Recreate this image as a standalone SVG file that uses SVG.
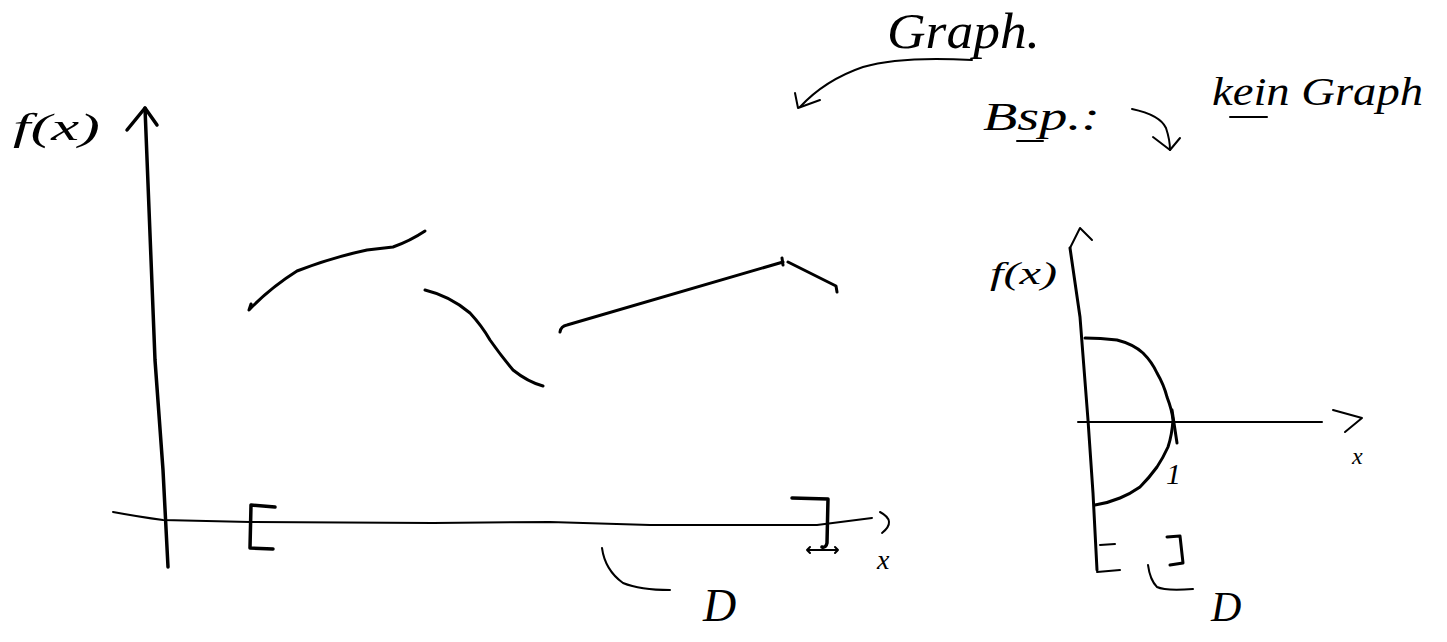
<svg xmlns="http://www.w3.org/2000/svg" width="1447" height="642" viewBox="0 0 1447 642">
<style>
.ink{fill:none;stroke:#000;stroke-linecap:round;stroke-linejoin:round}
.ax{stroke-width:3.5}
.cv{stroke-width:3}
.th{stroke-width:2}
.tx{font-family:"Liberation Serif","DejaVu Serif",serif;font-style:italic;fill:#000}
</style>
<rect width="1447" height="642" fill="#fff"/>
<g id="left-plot">
  <g id="left-y-axis">
    <path class="ink ax" d="M145,108 L155,360 L163,470 L168,567"/>
    <path class="ink ax" d="M127,130 L145,108 L157,125"/>
    <text class="tx" x="13" y="140" font-size="38" textLength="87" lengthAdjust="spacingAndGlyphs">f(x)</text>
  </g>
  <g id="left-x-axis">
    <path class="ink th" d="M113,512 Q140,517 163,520 L250,522 L433,523 L550,522 L650,525 L817,525 L872,518"/>
    <path class="ink th" d="M880,512 Q897,521 882,533"/>
    <text class="tx" x="877" y="569" font-size="28">x</text>
  </g>
  <g id="curve-1"><path class="ink cv" d="M251,304 L249,310 Q270,288 297,271 Q330,258 367,250 L393,247 Q410,241 425,231"/></g>
  <g id="curve-2"><path class="ink cv" d="M425,290 Q450,296 470,313 Q482,326 490,340 Q502,357 513,370 Q528,382 543,386"/></g>
  <g id="curve-3"><path class="ink cv" d="M560,332 Q561,326 567,325 L783,262 M782,258 L783,265 M788,262 Q812,274 836,286 L837,292"/></g>
  <g id="left-domain">
    <path class="ink ax" d="M275,507 L251,505 L250,548 L273,549"/>
    <path class="ink ax" d="M792,498 L828,499 L827,543 Q826,548 822,547"/>
    <path class="ink th" d="M807,550 L838,550 M810,547 L807,550 L810,553 M835,547 L838,550 L835,553"/>
    <path class="ink th" d="M602,548 Q605,570 623,583 Q640,590 670,590"/>
    <text class="tx" x="703" y="621" font-size="46">D</text>
  </g>
</g>
<g id="annotations">
  <g id="label-graph">
    <text class="tx" x="887" y="48" font-size="50" textLength="153" lengthAdjust="spacingAndGlyphs">Graph.</text>
    <path class="ink th" d="M972,60 Q900,56 863,67 Q825,80 800,107"/>
    <path class="ink th" d="M795,93 L798,108 L820,100"/>
  </g>
  <g id="label-bsp">
    <text class="tx" x="983" y="130" font-size="40" textLength="117" lengthAdjust="spacingAndGlyphs">Bsp.:</text>
    <path class="ink th" d="M1017,141 L1043,141"/>
    <path class="ink th" d="M1132,109 Q1160,115 1166,128 Q1170,140 1170,150"/>
    <path class="ink th" d="M1153,137 L1170,150 L1180,138"/>
  </g>
  <g id="label-kein-graph">
    <text class="tx" x="1212" y="105" font-size="40" textLength="211" lengthAdjust="spacingAndGlyphs">kein Graph</text>
    <path class="ink th" d="M1230,117 L1267,117"/>
  </g>
</g>
<g id="right-plot">
  <g id="right-y-axis">
    <path class="ink cv" d="M1070,248 L1080,317 L1088,420 L1093,493 L1097,570"/>
    <path class="ink th" d="M1070,248 L1080,228 L1092,240"/>
    <text class="tx" x="990" y="284" font-size="32" textLength="67" lengthAdjust="spacingAndGlyphs">f(x)</text>
  </g>
  <g id="right-x-axis">
    <path class="ink th" d="M1078,422 L1322,422"/>
    <path class="ink th" d="M1333,410 L1362,418 L1345,432"/>
    <text class="tx" x="1352" y="464" font-size="24">x</text>
  </g>
  <g id="semicircle">
    <path class="ink cv" d="M1085,338 Q1100,338 1117,340 Q1133,344 1143,353 Q1152,362 1157,373 Q1164,385 1167,397 Q1172,410 1173,420 Q1172,435 1168,447 Q1163,458 1157,467 Q1149,478 1140,487 Q1130,494 1120,498 Q1108,503 1095,505"/>
    <path class="ink cv" d="M1172,410 L1177,443"/>
    <text class="tx" x="1166" y="484" font-size="30">1</text>
  </g>
  <g id="right-domain">
    <path class="ink th" d="M1100,545 L1115,544 M1097,572 L1120,570"/>
    <path class="ink cv" d="M1167,537 L1180,536 L1183,563 L1170,565"/>
    <path class="ink th" d="M1148,565 Q1150,580 1157,587 Q1165,591 1193,589"/>
    <text class="tx" x="1211" y="621" font-size="42">D</text>
  </g>
</g>
</svg>
